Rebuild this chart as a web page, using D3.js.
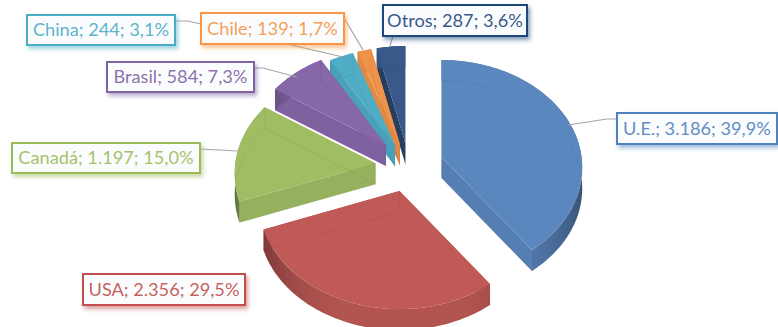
<!DOCTYPE html>
<html>
<head>
<meta charset="utf-8">
<script src="https://cdn.jsdelivr.net/npm/d3@7"></script>
<style>
    body { margin: 0; background: #fff; }
    svg { display: block; }
    text { font-family: Lato, "Open Sans", sans-serif; }
</style>
</head>
<body>
<svg id="chart" viewBox="0 0 778 327" width="778" height="327"></svg>
<script>
const countries = ["U.E.", "USA", "Canadá", "Brasil", "China", "Chile", "Otros"];
const amounts = [3186, 2356, 1197, 584, 244, 139, 287];

const topColors = ["#5b87bf", "#c05a56", "#a0bd63", "#8667a8", "#4fadc6", "#f0934a", "#38598a"];
const textColors = ["#4f81bd", "#c0504d", "#9bbb59", "#8064a2", "#4bacc6", "#f79646", "#1f497d"];

/* label boxes: x, y, w, h */
const labelBoxes = [
    [617, 113, 160, 31],
    [83, 274, 162, 31],
    [12, 143, 188, 30],
    [107, 62, 147, 30],
    [27, 15, 148, 30],
    [201, 13, 143, 31],
    [383, 5, 144, 31]
];
/* leader lines, USA has none */
const leaders = [
    [[568, 125], [607, 119], [617, 119]],
    [],
    [[200, 149], [238, 151]],
    [[254, 68], [263, 68], [297, 77]],
    [[175, 21], [188, 21], [343, 57]],
    [[344, 18], [363, 50]],
    [[393, 36], [390, 46]]
];
/* fine adjustment of each exploded slice */
const liftY = [-2, 0, -2, -5, 0, 0, 0];

const svg = d3.select("#chart");
const defs = svg.append("defs");

/* ----- 3D projection of the pie plate ----- */

const radiusX = 140, radiusY = 106.5, persp = 0.098, depth = 21;
const explode = 0.243, baseX = 409.2, baseY = 167.3;

function project(apex, u, v, drop) {
    let s = 1 / (1 - persp * v);
    return [apex[0] + radiusX * u * s, apex[1] + radiusY * v * s + (drop || 0)];
}

let pieData = d3.pie().sort(null).value(d => d).startAngle(0).endAngle(2 * Math.PI)(amounts);
let total = d3.sum(amounts);

let slices = pieData.map((d, i) => {
    let mid = (d.startAngle + d.endAngle) / 2;
    let u = Math.sin(mid), v = -Math.cos(mid);
    let apex = [baseX + explode * radiusX * u, baseY + 24.5 * v - 0.65 * u + liftY[i]];
    let n = Math.max(4, Math.ceil((d.endAngle - d.startAngle) / 0.03));
    let angles = d3.range(n + 1).map(k => d.startAngle + (d.endAngle - d.startAngle) * k / n);
    return { i, apex, angles };
});

let line = d3.line().curve(d3.curveLinear);
let rim = (s, drop) => s.angles.map(a => project(s.apex, Math.sin(a), -Math.cos(a), drop));
let centre = (s, drop) => [s.apex[0], s.apex[1] + drop];

/* ----- Slices, back to front ----- */

let drawOrder = [6, 5, 4, 3, 2, 0, 1];

let groups = svg.selectAll(".slice")
    .data(drawOrder.map(i => slices[i]))
    .enter()
    .append("g")
    .attr("class", "slice");

groups.each(function (s) {
    let g = d3.select(this);
    let col = topColors[s.i];
    let top = rim(s, 0), bottom = rim(s, depth);

    // cut walls
    [[top[0], bottom[0]], [top[top.length - 1], bottom[bottom.length - 1]]].forEach(w => {
        g.append("path")
            .attr("d", line([centre(s, 0), w[0], w[1], centre(s, depth)]) + "Z")
            .attr("fill", d3.color(col).darker(s.i === 6 ? 1 : 0.18));
    });

    // outer wall, darker towards the sides
    let grad = defs.append("linearGradient")
        .attr("id", "wall" + s.i)
        .attr("gradientUnits", "userSpaceOnUse")
        .attr("x1", s.apex[0] - radiusX).attr("x2", s.apex[0] + radiusX)
        .attr("y1", 0).attr("y2", 0);
    d3.range(21).forEach(k => {
        let t = k / 20;
        grad.append("stop")
            .attr("offset", t)
            .attr("stop-color", d3.color(col).darker(0.18 + 1.1 * Math.pow(Math.abs(2 * t - 1), 4)));
    });
    g.append("path")
        .attr("d", line(top.concat(bottom.slice().reverse())) + "Z")
        .attr("fill", `url(#wall${s.i})`);

    // top face
    g.append("path")
        .attr("d", line([centre(s, 0)].concat(top)) + "Z")
        .attr("fill", col);

    // the far edges shine through the top face
    g.append("path")
        .attr("d", line([centre(s, depth)].concat(bottom)) + "Z")
        .attr("fill", "none")
        .attr("stroke", "#000")
        .attr("stroke-opacity", 0.08)
        .attr("stroke-width", 0.7);
    [[centre(s, 0), centre(s, depth)], [top[0], bottom[0]], [top[top.length - 1], bottom[bottom.length - 1]]].forEach(e => {
        g.append("path")
            .attr("d", line(e))
            .attr("stroke", "#000")
            .attr("stroke-opacity", 0.08)
            .attr("stroke-width", 0.7);
    });
});

/* ----- Leader lines ----- */

svg.append("g")
    .selectAll("path")
    .data(leaders.filter(d => d.length))
    .enter()
    .append("path")
    .attr("d", d => line(d))
    .attr("fill", "none")
    .attr("stroke", "#a6a6a6")
    .attr("stroke-width", 1.2);

/* ----- Labels ----- */

let locale = d3.formatLocale({ decimal: ",", thousands: ".", grouping: [3], currency: ["", ""] });
let fmtValue = locale.format(",d");
let fmtPct = locale.format(".1%");

textColors.forEach((c, i) => {
    let f = defs.append("filter")
        .attr("id", "shadow" + i)
        .attr("x", "-10%").attr("y", "-30%")
        .attr("width", "125%").attr("height", "170%");
    f.append("feDropShadow")
        .attr("dx", 2).attr("dy", 3)
        .attr("stdDeviation", 2.2)
        .attr("flood-color", c)
        .attr("flood-opacity", 0.55);
});

let labels = svg.selectAll(".label")
    .data(countries)
    .enter()
    .append("g")
    .attr("class", "label");

labels.append("rect")
    .attr("x", (d, i) => labelBoxes[i][0])
    .attr("y", (d, i) => labelBoxes[i][1])
    .attr("width", (d, i) => labelBoxes[i][2])
    .attr("height", (d, i) => labelBoxes[i][3])
    .attr("fill", "#fbfcfd")
    .attr("stroke", (d, i) => textColors[i])
    .attr("stroke-width", 2)
    .attr("filter", (d, i) => `url(#shadow${i})`);

labels.append("text")
    .attr("x", (d, i) => labelBoxes[i][0] + labelBoxes[i][2] / 2)
    .attr("y", (d, i) => labelBoxes[i][1] + labelBoxes[i][3] / 2)
    .attr("dy", "0.35em")
    .attr("text-anchor", "middle")
    .attr("font-size", 18.2)
    .attr("fill", (d, i) => textColors[i])
    .attr("fill-opacity", 0.92)
    .text((d, i) => `${d}; ${fmtValue(amounts[i])}; ${fmtPct(amounts[i] / total)}`);
</script>
</body>
</html>
